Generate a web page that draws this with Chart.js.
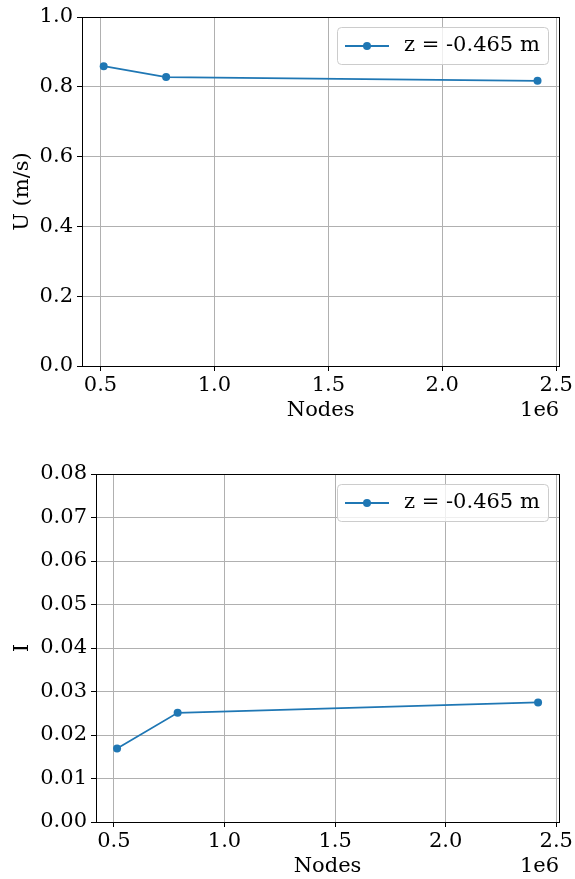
<!DOCTYPE html>
<html>
<head>
<meta charset="utf-8">
<script src="https://cdn.jsdelivr.net/npm/chart.js@4"></script>
<style>
  html, body { margin: 0; padding: 0; background: #fff; }
  #wrap { position: relative; width: 575px; height: 879px; }
  canvas { position: absolute; left: 0; }
</style>
</head>
<body>
<div id="wrap">
  <canvas id="velocity" width="575" height="440" style="top:0px"></canvas>
  <canvas id="intensity" width="575" height="439" style="top:440px"></canvas>
</div>
<script>
// Mesh-independence study: probe at z = -0.465 m
const nodes = [0.514e6, 0.788e6, 2.418e6];
const velocity = [0.859, 0.828, 0.817];
const intensity = [0.0169, 0.0251, 0.0275];
const seriesLabel = 'z = -0.465 m';

const nodeTicks = [0.5e6, 1.0e6, 1.5e6, 2.0e6, 2.5e6];
const velocityTicks = [0.0, 0.2, 0.4, 0.6, 0.8, 1.0];
const intensityTicks = [0.00, 0.01, 0.02, 0.03, 0.04, 0.05, 0.06, 0.07, 0.08];

const FONT = '"DejaVu Serif", serif';
const FS = 21;
const BLUE = '#1f77b4';
const GRID = '#b0b0b0';

// 5% margin either side of the data, as matplotlib autoscaling does
const xSpan = Math.max(...nodes) - Math.min(...nodes);
const xMin = Math.min(...nodes) - 0.05 * xSpan;
const xMax = Math.max(...nodes) + 0.05 * xSpan;

// Frame, legend, axis titles and the x offset label
const decor = {
  id: 'decor',
  afterDraw(chart, args, opts) {
    const { ctx, chartArea: a } = chart;
    ctx.save();
    // axes box
    ctx.strokeStyle = '#000';
    ctx.lineWidth = 1;
    ctx.strokeRect(Math.round(a.left) + 0.5, Math.round(a.top) + 0.5,
                   Math.round(a.right - a.left), Math.round(a.bottom - a.top));

    // legend
    const w = 211, h = 37;
    const x0 = Math.round(a.right - 11 - w), y0 = Math.round(a.top + 10);
    ctx.beginPath();
    ctx.roundRect(x0 + 0.5, y0 + 0.5, w, h, 4);
    ctx.fillStyle = 'rgba(255,255,255,0.8)';
    ctx.fill();
    ctx.strokeStyle = '#cccccc';
    ctx.stroke();
    const cy = y0 + h / 2 + 0.5;
    ctx.strokeStyle = BLUE;
    ctx.lineWidth = 1.8;
    ctx.beginPath();
    ctx.moveTo(x0 + 8, cy);
    ctx.lineTo(x0 + 52, cy);
    ctx.stroke();
    ctx.fillStyle = BLUE;
    ctx.beginPath();
    ctx.arc(x0 + 30, cy, 4, 0, Math.PI * 2);
    ctx.fill();
    ctx.fillStyle = '#000';
    ctx.font = FS + 'px ' + FONT;
    ctx.textAlign = 'left';
    ctx.textBaseline = 'middle';
    ctx.fillText(chart.data.datasets[0].label, x0 + 67, cy);

    // x title and offset text
    ctx.textBaseline = 'alphabetic';
    ctx.textAlign = 'center';
    ctx.fillText('Nodes', (a.left + a.right) / 2, a.bottom + 50);
    ctx.textAlign = 'right';
    ctx.fillText('1e6', a.right, a.bottom + 50);

    // y title
    ctx.translate(opts.yTitleX, (a.top + a.bottom) / 2);
    ctx.rotate(-Math.PI / 2);
    ctx.textAlign = 'center';
    ctx.textBaseline = 'middle';
    ctx.fillText(opts.yTitle, 0, 0);
    ctx.restore();
  }
};

function makeChart(id, values, yTicks, yMax, digits, yTitle, yWidth, xHeight, padTop) {
  return new Chart(document.getElementById(id), {
    type: 'line',
    data: {
      datasets: [{
        label: seriesLabel,
        data: nodes.map((n, i) => ({ x: n, y: values[i] })),
        borderColor: BLUE,
        backgroundColor: BLUE,
        borderWidth: 1.8,
        pointRadius: 4,
        pointBorderWidth: 0,
        pointBackgroundColor: BLUE,
        tension: 0,
        fill: false
      }]
    },
    options: {
      responsive: false,
      animation: false,
      events: [],
      layout: { padding: { left: 0, top: padTop, right: 14, bottom: 0 } },
      plugins: {
        legend: { display: false },
        tooltip: { enabled: false },
        decor: { yTitle: yTitle, yTitleX: 23 }
      },
      scales: {
        x: {
          type: 'linear',
          min: xMin,
          max: xMax,
          afterBuildTicks: s => { s.ticks = nodeTicks.map(v => ({ value: v })); },
          afterFit: s => { s.height = xHeight; },
          border: { display: false },
          grid: { color: GRID, lineWidth: 1, drawTicks: true, tickLength: 5, tickColor: '#000', tickWidth: 1 },
          ticks: {
            color: '#000',
            font: { family: FONT, size: FS },
            padding: 2,
            maxRotation: 0,
            callback: v => (v / 1e6).toFixed(1)
          }
        },
        y: {
          type: 'linear',
          min: 0,
          max: yMax,
          afterBuildTicks: s => { s.ticks = yTicks.map(v => ({ value: v })); },
          afterFit: s => { s.width = yWidth; },
          border: { display: false },
          grid: { color: GRID, lineWidth: 1, drawTicks: true, tickLength: 5, tickColor: '#000', tickWidth: 1 },
          ticks: {
            color: '#000',
            font: { family: FONT, size: FS },
            padding: 4,
            callback: v => v.toFixed(digits)
          }
        }
      }
    },
    plugins: [decor]
  });
}

makeChart('velocity', velocity, velocityTicks, 1.0, 1, 'U (m/s)', 82, 74, 17);
makeChart('intensity', intensity, intensityTicks, 0.08, 2, 'I', 96, 57, 34);
</script>
</body>
</html>
